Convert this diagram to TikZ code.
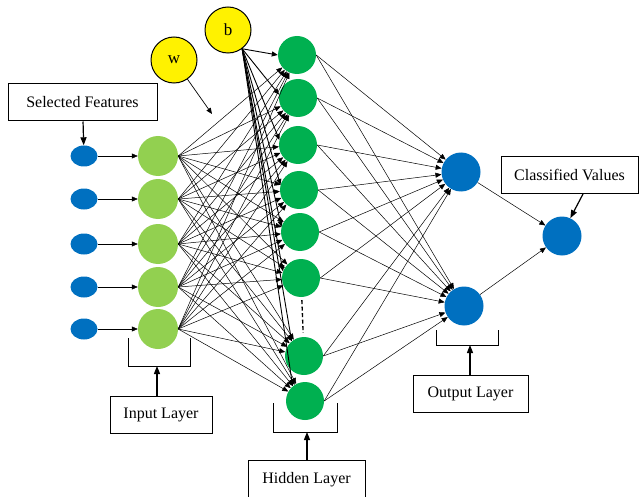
\documentclass[tikz,border=0pt]{standalone}
\usepackage{fontspec}
\setmainfont{Liberation Serif}
\usetikzlibrary{arrows.meta,shapes.geometric,positioning}

\definecolor{nnblue}{RGB}{0,112,192}
\definecolor{inpgreen}{RGB}{146,208,80}
\definecolor{hidgreen}{RGB}{0,176,80}

\begin{document}
\begin{tikzpicture}[x=1pt,y=-1pt,node distance=74pt,
  feat/.style={ellipse,fill=nnblue,minimum width=27pt,minimum height=21pt,inner sep=0pt},
  inp/.style={circle,fill=inpgreen,minimum size=40pt,inner sep=0pt},
  hid/.style={circle,fill=hidgreen,minimum size=38pt,inner sep=0pt},
  outp/.style={circle,fill=nnblue,minimum size=39pt,inner sep=0pt},
  param/.style={circle,draw,line width=1pt,fill=yellow,minimum size=46pt,inner sep=0pt,font=\fontsize{17}{19}\selectfont},
  lbl/.style={draw,line width=1pt,minimum height=37pt,inner sep=0pt,font=\fontsize{16}{18}\selectfont},
  wire/.style={-{Triangle[length=6pt,width=5pt]},line width=0.5pt},
  tag/.style={-{Triangle[length=8pt,width=6pt]},line width=1.2pt}]
\useasboundingbox (0,0) rectangle (639,497);

% input side
\node[inp] (g1) at (158,156) {};
\node[inp] (g2) at (158,199) {};
\node[inp] (g3) at (158,244) {};
\node[inp] (g4) at (158,287) {};
\node[inp] (g5) at (158,329) {};
\node[feat] (x1) [left of=g1] {};
\node[feat] (x2) [left of=g2] {};
\node[feat] (x3) [left of=g3] {};
\node[feat] (x4) [left of=g4] {};
\node[feat] (x5) [left of=g5] {};

% hidden layer
\node[hid] (h1) at (297,55) {};
\node[hid] (h2) at (298,98) {};
\node[hid] (h3) at (298,145) {};
\node[hid] (h4) at (299,190) {};
\node[hid] (h5) at (300,232) {};
\node[hid] (h6) at (301,278) {};
\node[hid] (h7) at (304,356) {};
\node[hid] (h8) at (305,401) {};

% output side
\node[outp] (o1) at (461,172) {};
\node[outp] (o2) at (464,306) {};
\node[outp] (f) at (562,236) {};

\node[param] (w) at (174,60) {w};
\node[param] (b) at (228,30) {b};
\coordinate (wt) at (212,114);

% labels
\node[lbl,minimum width=149pt] (sf) at (82.5,102.5) {Selected Features};
\node[lbl,minimum width=102pt] (il) at (161,415) {Input Layer};
\node[lbl,minimum width=117pt,minimum height=40pt] (hl) at (306.5,480) {Hidden Layer};
\node[lbl,minimum width=115pt] (ol) at (470.5,393.5) {Output Layer};
\node[lbl,minimum width=137pt] (cv) at (569.5,175) {Classified Values};

\foreach \i in {1,...,5}
  \draw[wire] (x\i) -- (g\i);
\foreach \i in {1,...,5}
  \foreach \j in {1,...,8}
    \draw[wire] (g\i.east) -- (h\j);
\foreach \j/\a in {1/180,2/170,3/165,4/165,5/165,6/160,7/130,8/130}
  \draw[wire,line width=0.9pt] (b.-53) -- (h\j.\a);
\foreach \j in {1,...,8}
  \foreach \k in {1,2}
    \draw[wire] (h\j.east) -- (o\k);
\foreach \k in {1,2}
  \draw[wire] (o\k) -- (f);

\draw[wire,line width=0.7pt] (w.-55) -- (wt);
\draw[line width=1.3pt,dash pattern=on 4pt off 2.5pt,shorten <=3pt,shorten >=4pt] (h6) -- (h7);

% brackets
\draw[line width=1pt] (128,338) |- (190,366) -- (190,338);
\draw[line width=1pt] (273,403) |- (337,432) -- (337,403);
\draw[line width=1pt] (436,330) |- (498,345) -- (498,330);
\coordinate (ib) at (157,366);
\coordinate (hb) at (307,432);
\coordinate (ob) at (470,345);

\draw[tag] (sf) -- (x1);
\draw[tag] (ib |- il.north) -- (ib);
\draw[tag] (hb |- hl.north) -- (hb);
\draw[tag] (ob |- ol.north) -- (ob);
\draw[tag] ([xshift=13.5pt]cv.south) -- (f.65);
\end{tikzpicture}
\end{document}
